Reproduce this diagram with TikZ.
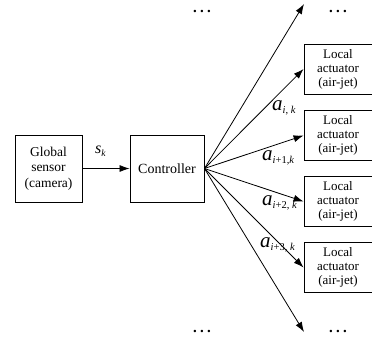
\documentclass[tikz,border=0pt]{standalone}
\usepackage{fontspec}
\setmainfont{Liberation Serif}
\usepackage{tikz}
\usetikzlibrary{arrows.meta, positioning, calc}
\definecolor{inkblack}{HTML}{000000}

\newcommand{\actlabel}[1]{{\fontsize{21}{21}\selectfont\textit{a}}\raisebox{-3.5pt}{\fontsize{10.5}{10.5}\selectfont #1}}
\newcommand{\moredots}{.\hspace{3.2pt}.\hspace{3.2pt}.}

\begin{document}
\begin{tikzpicture}[x=1pt, y=-1pt,
    blockbox/.style={draw=inkblack, line width=0.9pt, inner sep=0pt, align=center},
    fanarrow/.style={draw=inkblack, line width=0.8pt, -{Latex[length=10pt, width=7pt]}},
    dotsmark/.style={font=\fontsize{15}{15}\selectfont\bfseries, inner sep=0pt}]
    \useasboundingbox (0,0) rectangle (372,349);
    % Sensor and controller blocks
    \node[blockbox, minimum width=67pt, minimum height=67pt,
          font=\fontsize{13.5}{15.5}\selectfont] (sensor) at (48.5,168.5) {Global\\sensor\\(camera)};
    \node[blockbox, minimum width=74pt, minimum height=67pt,
          font=\fontsize{14}{15.5}\selectfont] (ctrl) at (167,168.5) {Controller};
    \draw[fanarrow] (sensor) -- (ctrl);
    \node[anchor=base west, inner sep=0pt] (slabel) at (95,153)
        {{\fontsize{16}{16}\selectfont\textit{s}}\raisebox{-3pt}{\fontsize{9.5}{9.5}\selectfont\textit{k}}};
    % Local actuator blocks
    \node[blockbox, minimum width=68pt, minimum height=50pt,
          font=\fontsize{13}{14}\selectfont] (act1) at (338,69) {Local\\actuator\\(air-jet)};
    \node[blockbox, minimum width=68pt, minimum height=50pt,
          font=\fontsize{13}{14}\selectfont] (act2) at (338,135.5) {Local\\actuator\\(air-jet)};
    \node[blockbox, minimum width=68pt, minimum height=50pt,
          font=\fontsize{13}{14}\selectfont] (act3) at (338,201.5) {Local\\actuator\\(air-jet)};
    \node[blockbox, minimum width=68pt, minimum height=50pt,
          font=\fontsize{13}{14}\selectfont] (act4) at (338,267.5) {Local\\actuator\\(air-jet)};
    % Fan of control signals
    \coordinate (hub) at (ctrl.east);
    \coordinate (fantop) at (304,4);
    \coordinate (fanbot) at (304,332);
    \draw[fanarrow] (hub) -- (fantop);
    \draw[fanarrow] (hub) -- (act1.west);
    \draw[fanarrow] (hub) -- (act2.west);
    \draw[fanarrow] (hub) -- (act3.west);
    \draw[fanarrow] (hub) -- (act4.west);
    \draw[fanarrow] (hub) -- (fanbot);
    % Signal labels
    \node[anchor=base west, inner sep=0pt] (lab1) at (272,110) {\actlabel{\textit{i}, \textit{k}}};
    \node[anchor=base west, inner sep=0pt] (lab2) at (262,160) {\actlabel{\textit{i}+1,\textit{k}}};
    \node[anchor=base west, inner sep=0pt] (lab3) at (262,205) {\actlabel{\textit{i}+2, \textit{k}}};
    \node[anchor=base west, inner sep=0pt] (lab4) at (260,247) {\actlabel{\textit{i}+3, \textit{k}}};
    % Continuation dots
    \node[dotsmark] (dotsTL) at (202,11) {\moredots};
    \node[dotsmark] (dotsTR) at (338,11) {\moredots};
    \node[dotsmark] (dotsBL) at (202,331) {\moredots};
    \node[dotsmark] (dotsBR) at (338,331) {\moredots};
\end{tikzpicture}
\end{document}
